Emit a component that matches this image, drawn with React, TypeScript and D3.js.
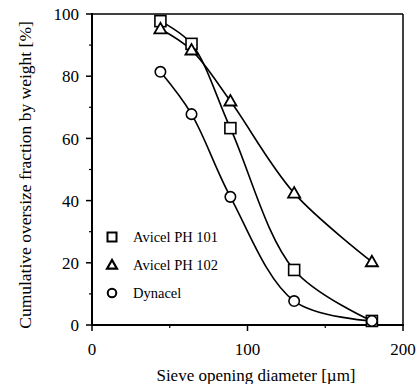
import React from "react";
import * as d3 from "d3";

const sieveSizes = [44, 64, 89, 130, 180];
const avicel101 = [97.7, 90.4, 63.3, 17.7, 1.3];
const avicel102 = [95.2, 88.4, 72.0, 42.4, 20.3];
const dynacel = [81.4, 67.8, 41.2, 7.7, 1.3];
const seriesNames = ["Avicel PH 101", "Avicel PH 102", "Dynacel"];
const xTicks = [0, 100, 200];
const xMinor = [50, 150];
const yTicks = [0, 20, 40, 60, 80, 100];
const yMinor = [10, 30, 50, 70, 90];

const W = 418;
const H = 384;
const L = 92, R = 403, T = 14, B = 325;
const FONT = "Liberation Serif, DejaVu Serif, serif";
const ts = { fontFamily: FONT };

function Marker({ type, x, y, s = 5.5, w = 1.6 }: { type: string; x: number; y: number; s?: number; w?: number }) {
  if (type === "square")
    return <rect x={x - s} y={y - s} width={2 * s} height={2 * s} fill="white" stroke="black" strokeWidth={w} />;
  if (type === "triangle") {
    const p = `${x},${y - s * 1.1} ${x - s * 1.1},${y + s * 0.8} ${x + s * 1.1},${y + s * 0.8}`;
    return <polygon points={p} fill="white" stroke="black" strokeWidth={w + 0.2} strokeLinejoin="miter" />;
  }
  return <circle cx={x} cy={y} r={s * 0.95} fill="white" stroke="black" strokeWidth={w} />;
}

export default function App() {
  const x = d3.scaleLinear().domain([0, 200]).range([L, R]);
  const y = d3.scaleLinear().domain([0, 100]).range([B, T]);
  const line = d3
    .line<[number, number]>()
    .x((d) => x(d[0]))
    .y((d) => y(d[1]))
    .curve(d3.curveCatmullRom.alpha(0.5));

  const series = [
    { name: seriesNames[0], vals: avicel101, type: "square" },
    { name: seriesNames[1], vals: avicel102, type: "triangle" },
    { name: seriesNames[2], vals: dynacel, type: "circle" },
  ];

  const legendY = [237, 265, 293];

  return (
    <svg width={W} height={H} style={{ position: "absolute", left: 0, top: 0, background: "white" }}>
      <rect x={0} y={0} width={W} height={H} fill="white" />
      {/* frame */}
      <line x1={L} y1={T} x2={R} y2={T} stroke="black" strokeWidth={1.5} />
      <line x1={R} y1={T} x2={R} y2={B} stroke="black" strokeWidth={1.5} />
      <line x1={L} y1={T - 1} x2={L} y2={B + 1} stroke="black" strokeWidth={2} />
      <line x1={L - 1} y1={B} x2={R + 1} y2={B} stroke="black" strokeWidth={2} />
      {/* y ticks */}
      {yTicks.map((t) => (
        <g key={"y" + t}>
          <line x1={L - 6} x2={L} y1={y(t)} y2={y(t)} stroke="black" strokeWidth={1.5} />
          <text x={L - 13} y={y(t)} dy="0.36em" textAnchor="end" fontSize={17} style={ts}>
            {t}
          </text>
        </g>
      ))}
      {yMinor.map((t) => (
        <line key={"ym" + t} x1={L - 3} x2={L} y1={y(t)} y2={y(t)} stroke="black" strokeWidth={1.2} />
      ))}
      {/* x ticks */}
      {xTicks.map((t) => (
        <g key={"x" + t}>
          <line x1={x(t)} x2={x(t)} y1={B} y2={B + 6} stroke="black" strokeWidth={1.5} />
          <text x={x(t)} y={B + 30} textAnchor="middle" fontSize={17} style={ts}>
            {t}
          </text>
        </g>
      ))}
      {xMinor.map((t) => (
        <line key={"xm" + t} x1={x(t)} x2={x(t)} y1={B} y2={B + 3} stroke="black" strokeWidth={1.2} />
      ))}
      {/* axis titles */}
      <text x={256} y={381} textAnchor="middle" fontSize={17} style={ts}>
        Sieve opening diameter [µm]
      </text>
      <text transform={`translate(25,${175}) rotate(-90)`} textAnchor="middle" dy="0.35em" fontSize={17.5} style={ts}>
        Cumulative oversize fraction by weight [%]
      </text>
      {/* curves */}
      {series.map((s) => (
        <path
          key={s.name}
          d={line(sieveSizes.map((v, i) => [v, s.vals[i]] as [number, number])) || ""}
          fill="none"
          stroke="black"
          strokeWidth={1.6}
        />
      ))}
      {series.map((s) =>
        sieveSizes.map((v, i) => <Marker key={s.name + i} type={s.type} x={x(v)} y={y(s.vals[i])} />)
      )}
      {/* legend */}
      {series.map((s, i) => (
        <g key={"lg" + s.name}>
          <Marker type={s.type} x={112} y={legendY[i]} s={4.5} w={2} />
          <text x={133} y={legendY[i]} dy="0.35em" fontSize={14.5} style={ts}>
            {s.name}
          </text>
        </g>
      ))}
    </svg>
  );
}
